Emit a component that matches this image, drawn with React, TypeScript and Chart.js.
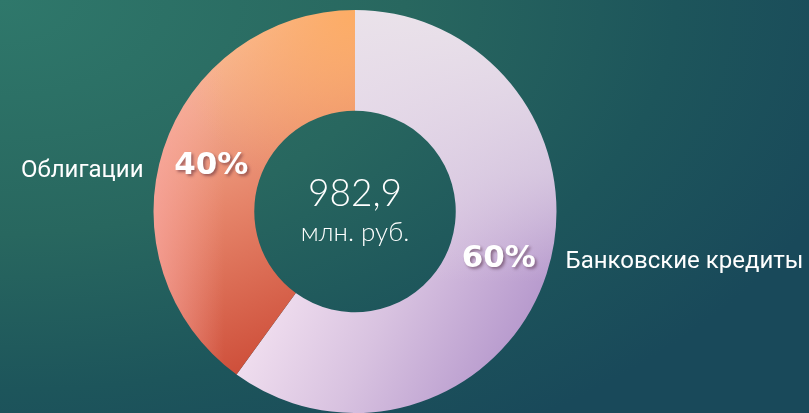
import React, { useEffect, useRef } from "react";
import { Chart, registerables } from "chart.js";

Chart.register(...registerables);

const categories = ["Банковские кредиты", "Облигации"];
const shares = [60, 40];
const percentLabels = ["60%", "40%"];
const totalValue = "982,9";
const totalUnit = "млн. руб.";

function makePattern(chart: any, kind: number) {
  const area = chart.chartArea;
  if (!area) return kind === 0 ? "#d9c8e0" : "#e8896a";
  const W = chart.width;
  const H = chart.height;
  const cx = (area.left + area.right) / 2;
  const cy = (area.top + area.bottom) / 2;
  const r = Math.min(area.right - area.left, area.bottom - area.top) / 2;
  const off = document.createElement("canvas");
  off.width = W;
  off.height = H;
  const g = off.getContext("2d") as CanvasRenderingContext2D;
  if (kind === 1) {
    const base = g.createLinearGradient(cx - 0.75 * r, cy - 0.85 * r, cx - 0.05 * r, cy + 0.8 * r);
    base.addColorStop(0, "#f9bfa0");
    base.addColorStop(0.45, "#e6856a");
    base.addColorStop(1, "#c8412e");
    g.fillStyle = base;
    g.fillRect(0, 0, W, H);
    const rad = g.createRadialGradient(cx, cy - r, 0, cx, cy - r, 0.95 * r);
    rad.addColorStop(0, "rgba(253,172,98,0.95)");
    rad.addColorStop(1, "rgba(253,172,98,0)");
    g.fillStyle = rad;
    g.fillRect(0, 0, W, H);
    const left = g.createLinearGradient(cx - r, 0, cx - 0.65 * r, 0);
    left.addColorStop(0, "rgba(250,168,162,0.7)");
    left.addColorStop(1, "rgba(250,168,162,0)");
    g.fillStyle = left;
    g.fillRect(0, 0, W, H);
  } else {
    const base = g.createLinearGradient(cx - 0.6 * r, cy + 0.2 * r, cx + 0.85 * r, cy + 0.95 * r);
    base.addColorStop(0, "#fcecf6");
    base.addColorStop(0.5, "#d8c2e0");
    base.addColorStop(1, "#ae8fc8");
    g.fillStyle = base;
    g.fillRect(0, 0, W, H);
    const top = g.createLinearGradient(0, cy - r, 0, cy + 0.35 * r);
    top.addColorStop(0, "rgba(234,226,234,1)");
    top.addColorStop(0.6, "rgba(222,210,228,0.7)");
    top.addColorStop(1, "rgba(222,210,228,0)");
    g.fillStyle = top;
    g.fillRect(0, 0, W, H);
  }
  return chart.ctx.createPattern(off, "no-repeat");
}

const textPlugin = {
  id: "textPlugin",
  afterDraw(chart: any) {
    const ctx = chart.ctx as CanvasRenderingContext2D;
    const meta = chart.getDatasetMeta(0);
    const first = meta.data[0];
    if (!first) return;
    const cx = first.x;
    const cy = first.y;
    const outer = first.outerRadius;
    ctx.save();
    ctx.fillStyle = "#ffffff";
    ctx.textAlign = "center";
    ctx.textBaseline = "alphabetic";
    ctx.font = "300 37px Lato";
    ctx.fillText(totalValue, cx, cy - 6);
    ctx.font = "300 26px Lato";
    ctx.fillText(totalUnit, cx, cy + 29);

    meta.data.forEach((arc: any, i: number) => {
      const p = arc.tooltipPosition();
      ctx.save();
      ctx.shadowColor = "rgba(60,20,40,0.45)";
      ctx.shadowBlur = 3;
      ctx.shadowOffsetX = 2;
      ctx.shadowOffsetY = 2;
      ctx.font = "bold 31px 'DejaVu Sans'";
      ctx.textAlign = "center";
      ctx.textBaseline = "middle";
      ctx.fillStyle = "#ffffff";
      ctx.fillText(percentLabels[i], p.x, p.y + 1);
      ctx.restore();
      ctx.font = "24px Roboto";
      ctx.textBaseline = "middle";
      ctx.fillStyle = "#ffffff";
      if (p.x < cx) {
        ctx.textAlign = "right";
        ctx.fillText(categories[i], cx - outer - 10, p.y + 6);
      } else {
        ctx.textAlign = "left";
        ctx.fillText(categories[i], cx + outer + 9, p.y + 4);
      }
    });
    ctx.restore();
  },
};

export default function App() {
  const ref = useRef<HTMLCanvasElement | null>(null);
  useEffect(() => {
    if (!ref.current) return;
    const chart = new Chart(ref.current, {
      type: "doughnut",
      data: {
        labels: categories,
        datasets: [
          {
            data: shares,
            backgroundColor: (c: any) => makePattern(c.chart, c.dataIndex),
            borderWidth: 0,
          },
        ],
      },
      options: {
        responsive: false,
        animation: false,
        cutout: "50%",
        layout: { padding: { left: 0, right: 99, top: 10, bottom: 0 } },
        plugins: {
          legend: { display: false },
          tooltip: { enabled: false },
        },
      },
      plugins: [textPlugin],
    });
    return () => chart.destroy();
  }, []);
  return (
    <div
      style={{
        position: "fixed",
        left: 0,
        top: 0,
        width: 809,
        height: 413,
        overflow: "hidden",
        background:
          "radial-gradient(ellipse 900px 520px at 0% 0%, #2f786b 0%, #28675f 45%, #1d555b 75%, #19495a 100%)",
      }}
    >
      <canvas ref={ref} width={809} height={413} style={{ display: "block" }} />
    </div>
  );
}
